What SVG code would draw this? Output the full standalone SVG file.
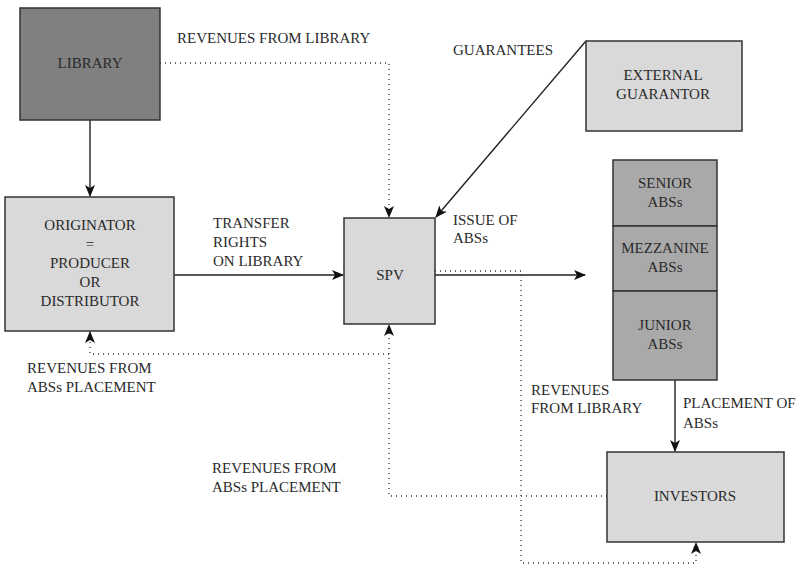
<svg xmlns="http://www.w3.org/2000/svg" width="802" height="564" viewBox="0 0 802 564">
<style>
text{font-family:"Liberation Serif","Times New Roman",serif;font-size:15px;fill:#2a2a2a}
.c{text-anchor:middle}
.box{stroke:#333;stroke-width:1.5}
.light{fill:#d9d9d9}
.dark{fill:#808080}
.mid{fill:#a9a9a9}
.solid{fill:none;stroke:#222;stroke-width:1.4}
.dot{fill:none;stroke:#333;stroke-width:1.3;stroke-dasharray:1 4}
</style>
<defs>
<marker id="ah" markerUnits="userSpaceOnUse" markerWidth="12" markerHeight="10" refX="11" refY="5" orient="auto" viewBox="0 0 12 10">
<path d="M0,0 L12,5 L0,10 L3,5 Z" fill="#111" stroke="none"/>
</marker>
</defs>
<rect width="802" height="564" fill="#fff"/>
<g id="connectors">
<path class="solid" d="M90,120 V196" marker-end="url(#ah)"/>
<path class="solid" d="M174,275 H343" marker-end="url(#ah)"/>
<path class="solid" d="M586,41 L436,217" marker-end="url(#ah)"/>
<path class="solid" d="M435,275 H585" marker-end="url(#ah)"/>
<path class="solid" d="M675,380 V451" marker-end="url(#ah)"/>
<path class="dot" d="M160,63 H389 V217" marker-end="url(#ah)"/>
<path class="dot" d="M607,496 H389 V325" marker-end="url(#ah)"/>
<path class="dot" d="M389,354 H90 V332" marker-end="url(#ah)"/>
<path class="dot" d="M435,271 H521 V563 H696 V543" marker-end="url(#ah)"/>
</g>
<g id="library">
<rect class="box dark" x="20" y="8" width="140" height="112"/>
<text class="c" x="90" y="68">LIBRARY</text>
</g>
<g id="originator">
<rect class="box light" x="5" y="197" width="169" height="134"/>
<text class="c" x="90" y="230">ORIGINATOR</text>
<text class="c" x="90" y="249">=</text>
<text class="c" x="90" y="268">PRODUCER</text>
<text class="c" x="90" y="287">OR</text>
<text class="c" x="90" y="306">DISTRIBUTOR</text>
</g>
<g id="spv">
<rect class="box light" x="344" y="218" width="91" height="106"/>
<text class="c" x="390" y="280">SPV</text>
</g>
<g id="external-guarantor">
<rect class="box light" x="586" y="41" width="156" height="90"/>
<text class="c" x="663" y="80">EXTERNAL</text>
<text class="c" x="663" y="99">GUARANTOR</text>
</g>
<g id="senior">
<rect class="box mid" x="613" y="160" width="104" height="66"/>
<text class="c" x="665" y="188">SENIOR</text>
<text class="c" x="665" y="207">ABSs</text>
</g>
<g id="mezzanine">
<rect class="box mid" x="613" y="226" width="104" height="65"/>
<text class="c" x="665" y="253">MEZZANINE</text>
<text class="c" x="665" y="272">ABSs</text>
</g>
<g id="junior">
<rect class="box mid" x="613" y="291" width="104" height="89"/>
<text class="c" x="665" y="330">JUNIOR</text>
<text class="c" x="665" y="349">ABSs</text>
</g>
<g id="investors">
<rect class="box light" x="607" y="452" width="177" height="90"/>
<text class="c" x="695" y="501">INVESTORS</text>
</g>
<g id="labels">
<text x="177" y="43">REVENUES FROM LIBRARY</text>
<text x="453" y="55">GUARANTEES</text>
<text x="213" y="228">TRANSFER</text>
<text x="213" y="247">RIGHTS</text>
<text x="213" y="266">ON LIBRARY</text>
<text x="453" y="225">ISSUE OF</text>
<text x="453" y="243">ABSs</text>
<text x="27" y="373">REVENUES FROM</text>
<text x="27" y="392">ABSs PLACEMENT</text>
<text x="212" y="473">REVENUES FROM</text>
<text x="212" y="492">ABSs PLACEMENT</text>
<text x="531" y="395">REVENUES</text>
<text x="531" y="413">FROM LIBRARY</text>
<text x="683" y="408">PLACEMENT OF</text>
<text x="683" y="428">ABSs</text>
</g>
</svg>
